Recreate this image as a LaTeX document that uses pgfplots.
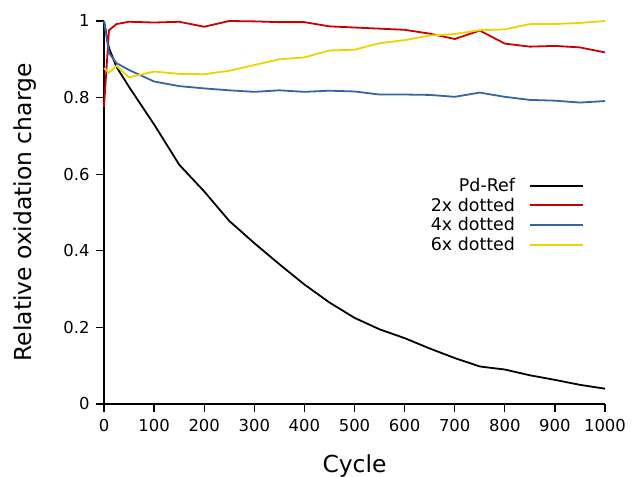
\documentclass[border=0pt]{standalone}
\usepackage{pgfplots}
\pgfplotsset{compat=1.18}
\usepackage{fontspec}
\setmainfont{DejaVu Sans}
\definecolor{cred}{HTML}{CC0000}
\definecolor{cblue}{HTML}{3465A4}
\definecolor{cyellow}{HTML}{EDD400}
\begin{document}
\begin{tikzpicture}
\begin{axis}[
  name=ax,
  scale only axis, width=501bp, height=383bp,
  xmin=0, xmax=1000, ymin=0, ymax=1,
  axis lines=left,
  axis line style={line width=1.3bp, -},
  tick align=outside,
  major tick length=8bp,
  every major tick/.append style={black, line width=1.3bp},
  xtick={0,100,...,1000}, ytick={0,0.2,...,1},
  /pgf/number format/assume math mode=true,
  /pgf/number format/1000 sep={},
  tick label style={font=\fontsize{16.5}{19}\selectfont},
  xticklabel style={yshift=-4bp},
  yticklabel style={xshift=-3bp},
  label style={font=\fontsize{23.5}{27}\selectfont},
  xlabel={Cycle}, ylabel={Relative oxidation charge},
  xlabel style={yshift=-16bp},
  ylabel style={yshift=20bp},
  clip=false,
  legend style={draw=none, fill=none, at={(rel axis cs:0.964,0.6)}, anchor=north east,
    font=\fontsize{17.5}{20}\selectfont, row sep=0.9bp,
    cells={anchor=east}},
  legend plot pos=right,
  legend image code/.code={\path (0bp,0bp); \draw[#1] (12bp,0bp) -- (65bp,0bp);},
]
\addplot[black, line width=1.8bp] coordinates {
(0,1.0) (10,0.929) (25,0.88) (50,0.828) (100,0.73) (150,0.625) (200,0.555) (250,0.478)
(300,0.42) (350,0.365) (400,0.312) (450,0.265) (500,0.225) (550,0.195) (600,0.172)
(650,0.145) (700,0.12) (750,0.098) (800,0.09) (850,0.075) (900,0.063) (950,0.05) (1000,0.04)};
\addlegendentry{Pd-Ref}
\addplot[cred, line width=1.8bp] coordinates {
(0,0.776) (10,0.976) (25,0.992) (50,0.998) (100,0.996) (150,0.998) (200,0.985) (250,1.0)
(300,0.999) (350,0.997) (400,0.997) (450,0.986) (500,0.983) (550,0.98) (600,0.977)
(650,0.967) (700,0.953) (750,0.975) (800,0.941) (850,0.933) (900,0.935) (950,0.931) (1000,0.918)};
\addlegendentry{2x dotted}
\addplot[cblue, line width=1.8bp] coordinates {
(0,1.0) (10,0.916) (25,0.89) (50,0.872) (100,0.842) (150,0.83) (200,0.824) (250,0.819)
(300,0.815) (350,0.819) (400,0.815) (450,0.818) (500,0.816) (550,0.808) (600,0.808)
(650,0.807) (700,0.802) (750,0.813) (800,0.802) (850,0.794) (900,0.792) (950,0.787) (1000,0.791)};
\addlegendentry{4x dotted}
\addplot[cyellow, line width=1.8bp] coordinates {
(0,0.877) (10,0.865) (25,0.883) (50,0.853) (100,0.868) (150,0.862) (200,0.861) (250,0.87)
(300,0.885) (350,0.9) (400,0.905) (450,0.923) (500,0.925) (550,0.942) (600,0.95)
(650,0.962) (700,0.966) (750,0.976) (800,0.978) (850,0.992) (900,0.992) (950,0.995) (1000,1.0)};
\addlegendentry{6x dotted}
\end{axis}
\pgfresetboundingbox
\path[use as bounding box] ([shift={(-104bp,-73bp)}]ax.south west) rectangle ([shift={(29bp,21bp)}]ax.north east);
\end{tikzpicture}
\end{document}
